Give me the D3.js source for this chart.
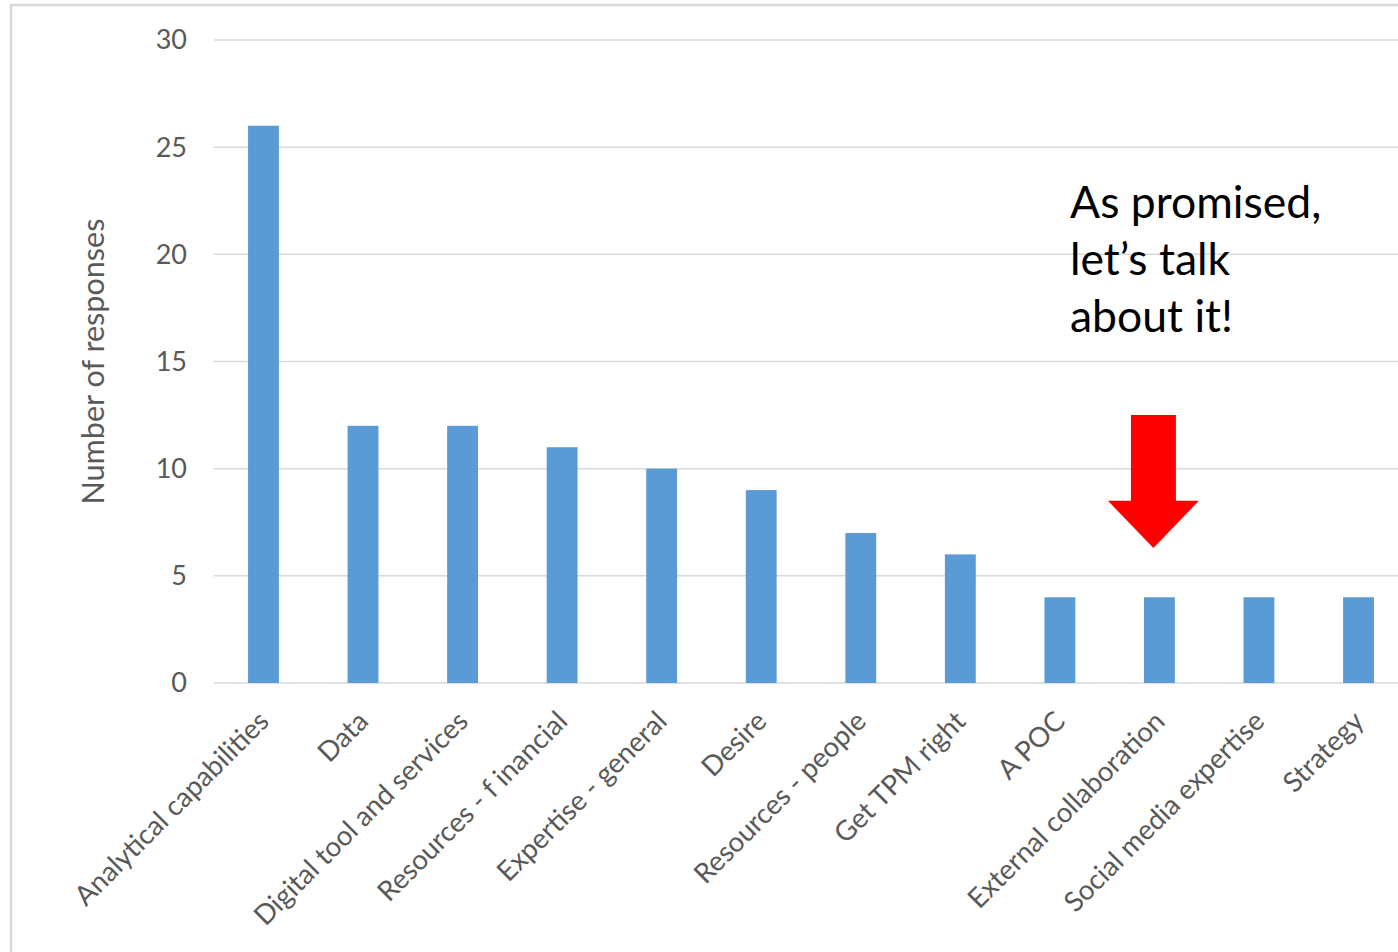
<!DOCTYPE html>
<html><head><meta charset="utf-8">
<script src="https://cdn.jsdelivr.net/npm/d3@7"></script>
<style>
html,body{margin:0;padding:0;background:#fff;overflow:hidden;}
svg{display:block;}
</style></head>
<body>
<svg id="c" width="1398" height="952"></svg>
<script>
const categories = ["Analytical capabilities","Data","Digital tool and services","Resources - f inancial","Expertise - general","Desire","Resources - people","Get TPM right","A POC","External collaboration","Social media expertise","Strategy"];
const values = [26,12,12,11,10,9,7,6,4,4,4,4];
const yTicks = [0,5,10,15,20,25,30];
const yTitle = "Number of responses";
const noteLines = ["As promised,","let\u2019s talk","about it!"];
const noteTarget = "External collaboration";

(function(){
const svg = d3.select("#c");
const font = "Lato, 'Open Sans', sans-serif";

svg.append("rect").attr("x",11).attr("y",5).attr("width",1398).attr("height",960)
  .attr("fill","none").attr("stroke","#d9d9d9").attr("stroke-width",2.5);

const pl = 213.7, pr = 1408.3, pt = 40, pb = 683;
const x = d3.scaleBand().domain(categories).range([pl,pr]).paddingInner(0.69).paddingOuter(0.345);
const y = d3.scaleLinear().domain([0,30]).range([pb,pt]);

svg.append("g").selectAll("line").data(yTicks).join("line")
  .attr("x1",pl).attr("x2",1398).attr("y1",d=>y(d)).attr("y2",d=>y(d))
  .attr("stroke","#d9d9d9").attr("stroke-width",1.5);

svg.append("g").selectAll("text").data(yTicks).join("text")
  .attr("x",187).attr("y",d=>y(d)).attr("dy","0.35em")
  .attr("text-anchor","end").attr("fill","#595959")
  .style("font-family",font).style("font-size","27px")
  .text(d=>d);

svg.append("g").selectAll("rect").data(values).join("rect")
  .attr("x",(d,i)=>x(categories[i])).attr("width",x.bandwidth())
  .attr("y",d=>y(d)).attr("height",d=>y(0)-y(d))
  .attr("fill","#5b9bd5");

svg.append("g").selectAll("text").data(categories).join("text")
  .attr("transform",d=>`translate(${x(d)+x.bandwidth()/2+7},${pb+40}) rotate(-45)`)
  .attr("text-anchor","end").attr("fill","#595959")
  .style("font-family",font).style("font-size","27.6px")
  .text(d=>d);

svg.append("text")
  .attr("transform",`translate(104,${(pt+pb)/2}) rotate(-90)`)
  .attr("text-anchor","middle").attr("fill","#595959")
  .style("font-family",font).style("font-size","30.6px")
  .text(yTitle);

const note = svg.append("text").attr("x",1070).attr("y",218)
  .style("font-family",font).style("font-size","44.5px").attr("fill","#000");
note.selectAll("tspan").data(noteLines).join("tspan")
  .attr("x",1070).attr("dy",(d,i)=>i===0?0:57).text(d=>d);

const cx = x(noteTarget)+x.bandwidth()/2 - 6;
const tipY = y(6.3), headY = y(8.5), topY = y(12.5);
const sw = 22.5, hw = 45.5;
svg.append("path")
  .attr("d",`M${cx-sw},${topY}L${cx+sw},${topY}L${cx+sw},${headY}L${cx+hw},${headY}L${cx},${tipY}L${cx-hw},${headY}L${cx-sw},${headY}Z`)
  .attr("fill","#ff0000");
})();
</script>
</body></html>
